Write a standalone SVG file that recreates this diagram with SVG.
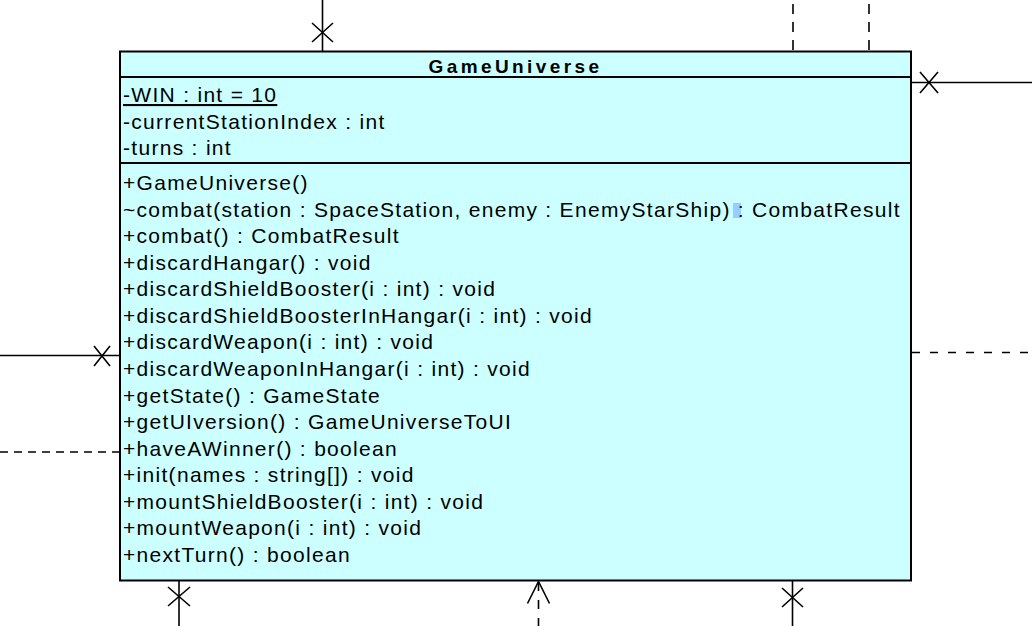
<svg xmlns="http://www.w3.org/2000/svg" width="1032" height="626" viewBox="0 0 1032 626">
<style>
.t{font-family:"Liberation Sans",Arial,Helvetica,sans-serif;font-size:21px;letter-spacing:1.3px;fill:#000}
.title{font-family:"Liberation Sans",Arial,Helvetica,sans-serif;font-size:19px;font-weight:bold;letter-spacing:3.4px;fill:#000}
.box{fill:#ccffff;stroke:#000;stroke-width:2}
.sep{stroke:#000;stroke-width:2}
.c{stroke:#000;stroke-width:1.6;fill:none}
.dv{stroke-dasharray:10 8}
.dl{stroke-dasharray:8 6}
.dr{stroke-dasharray:8 10}
.db{stroke-dasharray:9 9}
</style>
<rect width="1032" height="626" fill="#fff"/>
<g id="connectors">
  <line class="c" x1="322.5" y1="0" x2="322.5" y2="51"/>
  <path class="c" d="M312 23 L333 42 M333 23 L312 42"/>
  <line class="c dv" x1="793" y1="4" x2="793" y2="51"/>
  <line class="c dv" x1="869" y1="4" x2="869" y2="51"/>
  <line class="c" x1="912" y1="82.5" x2="1032" y2="82.5"/>
  <path class="c" d="M920 72 L938 93 M938 72 L920 93"/>
  <line class="c dr" x1="912" y1="352.5" x2="1032" y2="352.5"/>
  <line class="c" x1="0" y1="355.5" x2="120" y2="355.5"/>
  <path class="c" d="M94 346 L110 366 M110 346 L94 366"/>
  <line class="c dl" x1="0" y1="452" x2="120" y2="452"/>
  <line class="c" x1="179" y1="581" x2="179" y2="626"/>
  <path class="c" d="M168 587 L190 606 M190 587 L168 606"/>
  <line class="c db" x1="538.5" y1="582" x2="538.5" y2="626"/>
  <path class="c" d="M527.5 603.5 L538.5 581.5 L549.5 603.5"/>
  <line class="c" x1="792.5" y1="581" x2="792.5" y2="626"/>
  <path class="c" d="M782 588 L803 607 M803 588 L782 607"/>
</g>
<g id="GameUniverse">
  <rect class="box" x="120" y="51.5" width="791" height="529"/>
  <line class="sep" x1="120" y1="77" x2="911" y2="77"/>
  <line class="sep" x1="120" y1="163" x2="911" y2="163"/>
  <text class="title" x="515.5" y="73" text-anchor="middle">GameUniverse</text>
  <text class="t" x="123" y="102" text-decoration="underline">-WIN : int = 10</text>
  <text class="t" x="123" y="128.5">-currentStationIndex : int</text>
  <text class="t" x="123" y="155">-turns : int</text>
  <rect x="733" y="203" width="8" height="15" fill="#99ccff"/>
  <text class="t" x="123" y="216.6">~combat(station : SpaceStation, enemy : EnemyStarShip) : CombatResult</text>
  <text class="t" x="123" y="190">+GameUniverse()</text>
  <text class="t" x="123" y="243.1">+combat() : CombatResult</text>
  <text class="t" x="123" y="269.7">+discardHangar() : void</text>
  <text class="t" x="123" y="296.3">+discardShieldBooster(i : int) : void</text>
  <text class="t" x="123" y="322.9">+discardShieldBoosterInHangar(i : int) : void</text>
  <text class="t" x="123" y="349.4">+discardWeapon(i : int) : void</text>
  <text class="t" x="123" y="376">+discardWeaponInHangar(i : int) : void</text>
  <text class="t" x="123" y="402.6">+getState() : GameState</text>
  <text class="t" x="123" y="429.1">+getUIversion() : GameUniverseToUI</text>
  <text class="t" x="123" y="455.7">+haveAWinner() : boolean</text>
  <text class="t" x="123" y="482.3">+init(names : string[]) : void</text>
  <text class="t" x="123" y="508.8">+mountShieldBooster(i : int) : void</text>
  <text class="t" x="123" y="535.4">+mountWeapon(i : int) : void</text>
  <text class="t" x="123" y="562">+nextTurn() : boolean</text>
</g>
</svg>
